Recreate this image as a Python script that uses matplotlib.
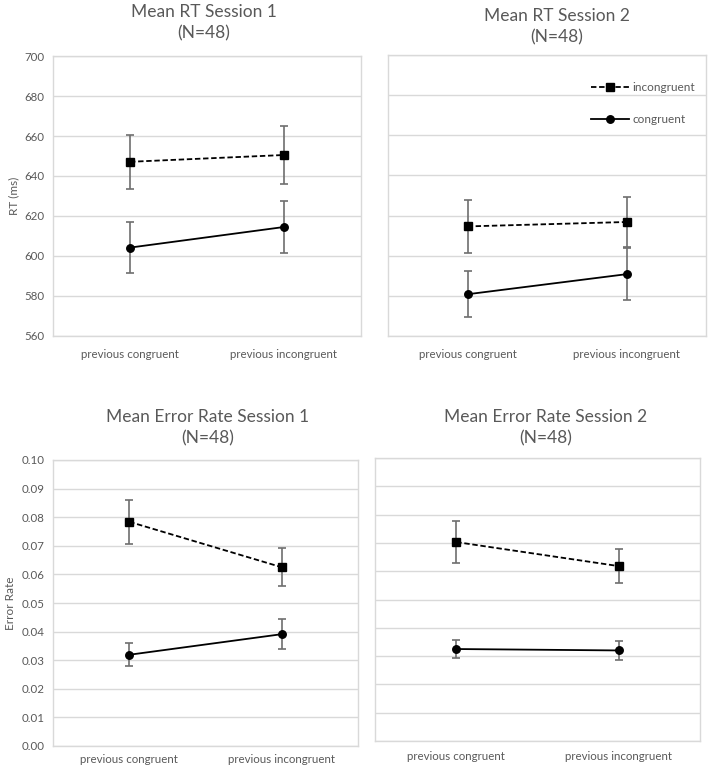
import matplotlib
matplotlib.use('Agg')
import matplotlib.pyplot as plt
from matplotlib.lines import Line2D
import numpy as np

plt.rcParams['font.family'] = ['Lato', 'DejaVu Sans']

categories = ['previous congruent', 'previous incongruent']

# RT session 1
rt1_incon = [647.1, 650.5]
rt1_incon_err = [13.5, 14.7]
rt1_con = [604.2, 614.5]
rt1_con_err = [12.6, 13.1]

# RT session 2
rt2_incon = [614.6, 616.8]
rt2_incon_err = [13.1, 12.3]
rt2_con = [580.8, 590.8]
rt2_con_err = [11.5, 13.0]

# error rate session 1
er1_incon = [0.0784, 0.0625]
er1_incon_err = [0.0077, 0.0067]
er1_con = [0.0319, 0.0391]
er1_con_err = [0.0041, 0.0053]

# error rate session 2
er2_incon = [0.0703, 0.0618]
er2_incon_err = [0.0075, 0.0060]
er2_con = [0.0325, 0.0320]
er2_con_err = [0.0033, 0.0035]

gray = '#595959'
gridc = '#d9d9d9'
dash = (0, (3, 1.5))

W, H = 709, 769
fig = plt.figure(figsize=(W/100, H/100), dpi=100)

def axes_px(x0, y0, x1, y1):
    return fig.add_axes([x0/W, 1-y1/H, (x1-x0)/W, (y1-y0)/H])

def panel(ax, incon, incon_err, con, con_err, ylim, step, fmt, ylabel, show_labels=True, xpad=9):
    x = np.arange(len(categories))
    ax.errorbar(x, incon, yerr=incon_err, color='black', ls=dash, lw=1.3,
                marker='s', ms=5.2, ecolor='#6e6e6e', elinewidth=1.2, capsize=3.2,
                capthick=1.2, zorder=3)
    ax.errorbar(x, con, yerr=con_err, color='black', ls='-', lw=1.3,
                marker='o', ms=5.4, ecolor='#6e6e6e', elinewidth=1.2, capsize=3.2,
                capthick=1.2, zorder=3)
    ax.set_xlim(-0.5, 1.5)
    ax.set_ylim(*ylim)
    ticks = np.arange(ylim[0], ylim[1] + step/2, step)
    ax.set_yticks(ticks)
    ax.yaxis.grid(True, color=gridc, lw=1)
    ax.set_axisbelow(True)
    if show_labels:
        ax.set_yticklabels([fmt.format(t) for t in ticks])
    else:
        ax.set_yticklabels([])
    ax.set_xticks(x)
    ax.set_xticklabels(categories)
    ax.tick_params(length=0, colors=gray, labelsize=8.3)
    ax.tick_params(axis='x', pad=xpad)
    ax.tick_params(axis='y', pad=6)
    for s in ax.spines.values():
        s.set_color(gridc)
        s.set_linewidth(1)
    if ylabel:
        ax.set_ylabel(ylabel, color=gray, fontsize=8.5, labelpad=4)

ax1 = axes_px(53, 56, 361, 336)
panel(ax1, rt1_incon, rt1_incon_err, rt1_con, rt1_con_err, (560, 700), 20, '{:.0f}', 'RT (ms)')

ax2 = axes_px(388, 55, 706, 336)
panel(ax2, rt2_incon, rt2_incon_err, rt2_con, rt2_con_err, (560, 700), 20, '{:.0f}', None, False)
handles = [Line2D([], [], color='black', ls=dash, lw=1.3, marker='s', ms=5.2),
           Line2D([], [], color='black', ls='-', lw=1.3, marker='o', ms=5.4)]
ax2.legend(handles, ['incongruent', 'congruent'], loc='upper right',
           bbox_to_anchor=(1.0, 0.94), frameon=False, fontsize=8.5,
           labelcolor=gray, handlelength=3.2, handletextpad=0.35, labelspacing=1.75)

ax3 = axes_px(53, 460, 358, 746)
panel(ax3, er1_incon, er1_incon_err, er1_con, er1_con_err, (0, 0.1), 0.01, '{:.2f}', 'Error Rate',
      xpad=6)

ax4 = axes_px(375, 458, 700, 741)
panel(ax4, er2_incon, er2_incon_err, er2_con, er2_con_err, (0, 0.1), 0.01, '{:.2f}', None, False,
      xpad=7)

def title(cx, cy, line1):
    fig.text(cx/W, 1-cy/H, line1 + '\n(N=48)', ha='center', va='center', color=gray,
             fontsize=12.5, linespacing=1.4)

title(204, 23, 'Mean RT Session 1')
title(557, 27, 'Mean RT Session 2')
title(208, 428, 'Mean Error Rate Session 1')
title(546, 428, 'Mean Error Rate Session 2')

fig.savefig('out.png', dpi=100, facecolor='white')
